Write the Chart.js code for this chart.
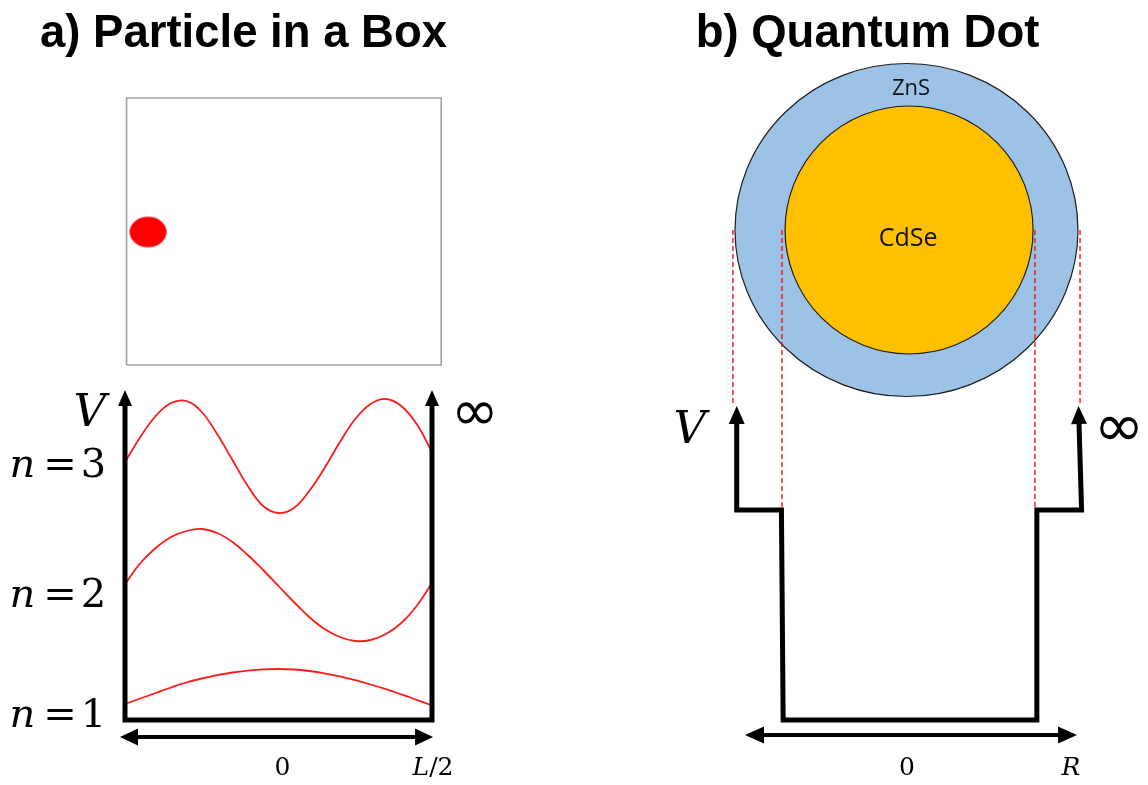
<!DOCTYPE html>
<html>
<head>
<meta charset="utf-8">
<script src="https://cdn.jsdelivr.net/npm/chart.js@4/dist/chart.umd.min.js"></script>
<style>
  html, body { margin: 0; padding: 0; background: #ffffff; }
  #wrap { position: relative; width: 1148px; height: 785px; }
  #wrap canvas { position: absolute; top: 0; }
  #boxChart { left: 0; }
  #dotChart { left: 574px; }
</style>
</head>
<body>
<div id="wrap">
  <canvas id="boxChart" width="574" height="785"></canvas>
  <canvas id="dotChart" width="574" height="785"></canvas>
</div>
<script>
// ---------- a) particle in a box ----------
// position across the box in units of L (walls at -L/2 and +L/2)
const boxX = [-0.5, -0.45, -0.4, -0.35, -0.3, -0.25, -0.2, -0.15, -0.1, -0.05, 0,
              0.05, 0.1, 0.15, 0.2, 0.25, 0.3, 0.35, 0.4, 0.45, 0.5];
// each wavefunction drawn about its own energy level
const psiN1 = [0.160, 0.215, 0.270, 0.325, 0.375, 0.415, 0.448, 0.475, 0.494, 0.506, 0.510,
               0.505, 0.490, 0.467, 0.436, 0.398, 0.355, 0.308, 0.256, 0.201, 0.145];
const psiN2 = [1.36, 1.57, 1.72, 1.83, 1.89, 1.91, 1.87, 1.78, 1.65, 1.50, 1.34,
               1.18, 1.03, 0.91, 0.83, 0.79, 0.80, 0.86, 0.97, 1.14, 1.37];
const psiN3 = [2.58, 2.83, 3.04, 3.17, 3.19, 3.08, 2.86, 2.60, 2.34, 2.14, 2.07,
               2.12, 2.29, 2.52, 2.78, 3.01, 3.16, 3.21, 3.14, 2.96, 2.68];
const stateNumbers = ['1', '2', '3'];
const boxWallTop = 3.15;               // infinite walls, drawn as arrows
const boxAxisX = [-0.461, 0.448];      // double-headed position axis
const boxTickValues = [0, 0.5];
const boxTickLabels = ['0', 'L/2'];
const containerX = [-0.495, 0.53];     // the box the particle sits in
const containerY = [3.55, 6.22];
const particleAt = [-0.425, 4.88];

// ---------- b) core/shell quantum dot ----------
const wellX = [-0.99, -0.99, -0.73, -0.72, 0.755, 0.755, 1.015, 1.0];
const wellV = [2.97, 2.1, 2.1, 0, 0, 2.1, 2.1, 2.97];
const shellEdgeX = [-1.012, 1.006];
const coreEdgeX = [-0.727, 0.744];
const shellStepV = 2.1;
const wallTipV = 3.15;
const dotAxisX = [-0.837, 0.884];
const dotTickValues = [0, 0.953];
const dotTickLabels = ['0', 'R'];
const layerNames = ['ZnS', 'CdSe'];
const layerRadii = [0.997, 0.721];

// ---------- helpers ----------
const SERIF = '"DejaVu Serif"';
const pts = (xs, ys) => xs.map((x, i) => ({ x, y: ys[i] }));

function mathRuns(str) {
  // latin letters set in italic, digits and symbols upright
  const runs = [];
  for (const ch of str) {
    const it = /[A-Za-z]/.test(ch);
    const last = runs[runs.length - 1];
    if (last && last.it === it) last.t += ch; else runs.push({ t: ch, it });
  }
  return runs;
}
function drawMath(ctx, str, x, y, size, align) {
  const runs = mathRuns(str);
  const fonts = runs.map(r => (r.it ? 'italic ' : '') + size + 'px ' + SERIF);
  const widths = runs.map((r, i) => { ctx.font = fonts[i]; return ctx.measureText(r.t).width; });
  const total = widths.reduce((a, b) => a + b, 0);
  let cx = align === 'center' ? x - total / 2 : align === 'right' ? x - total : x;
  ctx.textAlign = 'left';
  ctx.textBaseline = 'alphabetic';
  runs.forEach((r, i) => { ctx.font = fonts[i]; ctx.fillText(r.t, cx, y); cx += widths[i]; });
}
function drawBoxCentered(ctx, str, font, cx, cy) {
  ctx.font = font;
  ctx.textAlign = 'left';
  ctx.textBaseline = 'alphabetic';
  const m = ctx.measureText(str);
  const w = m.actualBoundingBoxLeft + m.actualBoundingBoxRight;
  const h = m.actualBoundingBoxAscent + m.actualBoundingBoxDescent;
  ctx.fillText(str, cx - w / 2 + m.actualBoundingBoxLeft, cy - h / 2 + m.actualBoundingBoxAscent);
}
// glyph scaled so that its inked width is targetW pixels
function drawFitted(ctx, str, family, targetW, cx, cy) {
  ctx.font = '100px ' + family;
  const m = ctx.measureText(str);
  const w = m.actualBoundingBoxLeft + m.actualBoundingBoxRight;
  const size = 100 * targetW / w;
  drawBoxCentered(ctx, str, size.toFixed(1) + 'px ' + family, cx, cy);
}
function ellipseSprite(rx, ry, color) {
  const c = document.createElement('canvas');
  c.width = Math.ceil(rx * 2) + 2;
  c.height = Math.ceil(ry * 2) + 2;
  const g = c.getContext('2d');
  g.fillStyle = color;
  g.beginPath();
  g.ellipse(c.width / 2, c.height / 2, rx, ry, 0, 0, Math.PI * 2);
  g.fill();
  return c;
}

// arrowheads at both ends of any dataset that asks for them
const arrowHeads = {
  id: 'arrowHeads',
  afterDatasetsDraw(chart) {
    const ctx = chart.ctx;
    chart.data.datasets.forEach((ds, i) => {
      if (!ds.arrowHead) return;
      const p = chart.getDatasetMeta(i).data;
      const n = p.length;
      const { len, half } = ds.arrowHead;
      const head = (a, b) => {
        const dx = b.x - a.x, dy = b.y - a.y, d = Math.hypot(dx, dy);
        const ux = dx / d, uy = dy / d;
        const bx = b.x - ux, by = b.y - uy;
        ctx.beginPath();
        ctx.moveTo(b.x + ux * len, b.y + uy * len);
        ctx.lineTo(bx - uy * half, by + ux * half);
        ctx.lineTo(bx + uy * half, by - ux * half);
        ctx.closePath();
        ctx.fill();
      };
      ctx.save();
      ctx.fillStyle = ds.borderColor;
      head(p[1], p[0]);
      head(p[n - 2], p[n - 1]);
      ctx.restore();
    });
  }
};

const baseOptions = (xmin, xmax) => ({
  responsive: false,
  animation: false,
  events: [],
  layout: { padding: 0, autoPadding: false },
  plugins: { legend: { display: false }, tooltip: { enabled: false } },
  scales: {
    x: { type: 'linear', display: false, min: xmin, max: xmax },
    y: { type: 'linear', display: false, min: -0.65, max: 7.2 }
  },
  elements: { point: { radius: 0 }, line: { borderCapStyle: 'butt', borderJoinStyle: 'miter' } }
});

// ---------- chart a ----------
const boxText = {
  id: 'boxText',
  afterDraw(chart) {
    const { ctx, scales: { x, y } } = chart;
    ctx.save();
    ctx.fillStyle = '#000';
    ctx.font = 'bold 45.5px "Liberation Sans"';
    ctx.textAlign = 'center';
    ctx.textBaseline = 'alphabetic';
    ctx.fillText('a) Particle in a Box', 243.5, 47);

    drawBoxCentered(ctx, 'V', 'italic 45px ' + SERIF, x.getPixelForValue(-0.604), y.getPixelForValue(3.11));
    drawFitted(ctx, '\u221E', '"DejaVu Sans"', 36, x.getPixelForValue(0.64), y.getPixelForValue(3.07));

    // "n = k" set piece by piece: italic n, equals sign, quantum number
    const labelBase = [-0.07, 1.13, 2.43];
    stateNumbers.forEach((k, i) => {
      const by = y.getPixelForValue(labelBase[i]);
      drawMath(ctx, 'n', 22.5, by, 40, 'center');
      drawMath(ctx, '=', 60, by, 40, 'center');
      drawMath(ctx, k, 93.5, by, 40, 'center');
    });
    boxTickValues.forEach((v, i) => {
      drawMath(ctx, boxTickLabels[i], x.getPixelForValue(v) + (i === 0 ? 4 : 1), y.getPixelForValue(-0.55), 25, 'center');
    });
    ctx.restore();
  }
};

new Chart(document.getElementById('boxChart'), {
  type: 'scatter',
  data: {
    datasets: [
      { data: pts([-0.5, -0.5, 0.5, 0.5], [boxWallTop, 0, 0, boxWallTop]), showLine: true,
        borderColor: '#000', borderWidth: 5, tension: 0, clip: false, arrowHead: { len: 15, half: 7 } },
      { data: pts(boxAxisX, [-0.17, -0.17]), showLine: true,
        borderColor: '#000', borderWidth: 4, tension: 0, clip: false, arrowHead: { len: 17, half: 8.5 } },
      { data: pts(boxX, psiN1), showLine: true, borderColor: '#ff1a1a', borderWidth: 1.8,
        tension: 0.4, clip: false },
      { data: pts(boxX, psiN2), showLine: true, borderColor: '#ff1a1a', borderWidth: 1.8,
        tension: 0.4, clip: false },
      { data: pts(boxX, psiN3), showLine: true, borderColor: '#ff1a1a', borderWidth: 1.8,
        tension: 0.4, clip: false },
      { data: pts([containerX[0], containerX[1], containerX[1], containerX[0], containerX[0]],
                  [containerY[0], containerY[0], containerY[1], containerY[1], containerY[0]]),
        showLine: true, borderColor: '#a0a0a0', borderWidth: 1.6, tension: 0, clip: false },
      { data: [{ x: particleAt[0], y: particleAt[1] }], showLine: false,
        pointStyle: ellipseSprite(18.5, 15.3, '#ff0000'), pointRadius: 10, clip: false }
    ]
  },
  options: baseOptions(-0.90717, 0.96254),
  plugins: [arrowHeads, boxText]
});

// ---------- chart b ----------
const dotLayers = {
  id: 'dotLayers',
  beforeDatasetsDraw(chart) {
    const { ctx, scales: { x, y } } = chart;
    const centerX = [-0.003, 0.012];
    const squash = [0.971, 1.0];
    const fills = ['#9cc3e6', '#ffc000'];
    const cy = y.getPixelForValue(4.9);
    ctx.save();
    layerRadii.forEach((r, i) => {
      const cx = x.getPixelForValue(centerX[i]);
      const rx = x.getPixelForValue(centerX[i] + r) - cx;
      ctx.beginPath();
      ctx.ellipse(cx, cy, rx, rx * squash[i], 0, 0, Math.PI * 2);
      ctx.fillStyle = fills[i];
      ctx.fill();
      ctx.lineWidth = 1.2;
      ctx.strokeStyle = '#1e1e1e';
      ctx.stroke();
    });
    ctx.restore();
  }
};
const dotText = {
  id: 'dotText',
  afterDraw(chart) {
    const { ctx, scales: { x, y } } = chart;
    ctx.save();
    ctx.fillStyle = '#000';
    ctx.font = 'bold 45.5px "Liberation Sans"';
    ctx.textAlign = 'center';
    ctx.textBaseline = 'alphabetic';
    ctx.fillText('b) Quantum Dot', 293.5, 47);

    ctx.fillStyle = '#111';
    drawBoxCentered(ctx, layerNames[0], '22px "Open Sans"', x.getPixelForValue(0.023), y.getPixelForValue(6.33));
    drawBoxCentered(ctx, layerNames[1], '25px "Open Sans"', x.getPixelForValue(0.006), y.getPixelForValue(4.84));

    ctx.fillStyle = '#000';
    drawBoxCentered(ctx, 'V', 'italic 45px ' + SERIF, x.getPixelForValue(-1.244), y.getPixelForValue(2.94));
    drawFitted(ctx, '\u221E', '"DejaVu Sans"', 38, x.getPixelForValue(1.233), y.getPixelForValue(2.92));
    dotTickValues.forEach((v, i) => {
      drawMath(ctx, dotTickLabels[i], x.getPixelForValue(v), y.getPixelForValue(-0.55), 25, 'center');
    });
    ctx.restore();
  }
};

const dashed = (xv, yTop, yBottom) => ({
  data: pts([xv, xv], [yTop, yBottom]), showLine: true, borderColor: '#ff0000',
  borderWidth: 1.3, borderDash: [5, 3], tension: 0, clip: false
});

new Chart(document.getElementById('dotChart'), {
  type: 'scatter',
  data: {
    datasets: [
      { data: pts(wellX, wellV), showLine: true, borderColor: '#000', borderWidth: 5,
        tension: 0, clip: false, arrowHead: { len: 17, half: 8 } },
      { data: pts(dotAxisX, [-0.15, -0.15]), showLine: true, borderColor: '#000', borderWidth: 4,
        tension: 0, clip: false, arrowHead: { len: 18, half: 8.5 } },
      dashed(shellEdgeX[0], 4.9, wallTipV),
      dashed(shellEdgeX[1], 4.9, wallTipV),
      dashed(coreEdgeX[0], 4.9, shellStepV),
      dashed(coreEdgeX[1], 4.9, shellStepV)
    ]
  },
  options: baseOptions(-1.9360, 1.4012),
  plugins: [arrowHeads, dotLayers, dotText]
});
</script>
</body>
</html>
